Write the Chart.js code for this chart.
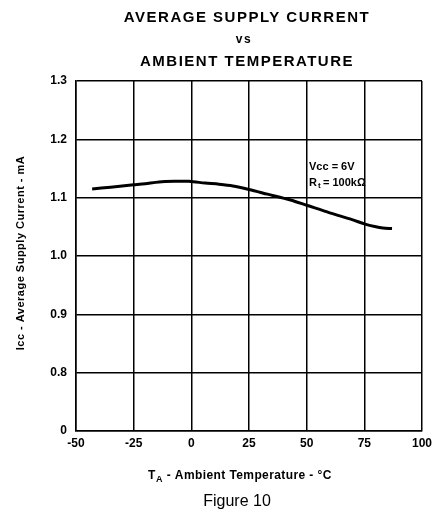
<!DOCTYPE html>
<html>
<head>
<meta charset="utf-8">
<script src="https://cdn.jsdelivr.net/npm/chart.js@4.4.0/dist/chart.umd.min.js"></script>
<style>
  html, body { margin: 0; padding: 0; background: #fff; }
  canvas { display: block; }
</style>
</head>
<body>
<canvas id="chart-area" width="434" height="514"></canvas>
<script>
// temperature (deg C) and supply current (mA)
var temps = [-43, -35, -25, -20, -14, -7, -1, 6, 12, 18, 25, 33, 43, 50, 60, 70, 75, 80, 83, 87];
var current = [1.115, 1.118, 1.122, 1.124, 1.127, 1.128, 1.128, 1.125, 1.123, 1.120, 1.114, 1.106, 1.096, 1.087, 1.074, 1.062, 1.055, 1.050, 1.048, 1.047];
var xTicks = [-50, -25, 0, 25, 50, 75, 100];
var yTicks = [0.7, 0.8, 0.9, 1.0, 1.1, 1.2, 1.3];
var yTickLabels = ['0', '0.8', '0.9', '1.0', '1.1', '1.2', '1.3'];

var fontFamily = '"Liberation Sans", Arial, sans-serif';

var points = [];
for (var i = 0; i < temps.length; i++) {
    points.push({ x: temps[i], y: current[i] });
}

var textPlugin = {
    id: 'textPlugin',
    afterDraw: function (chart) {
        var ctx = chart.ctx;
        ctx.save();
        ctx.fillStyle = '#000';
        ctx.textAlign = 'center';
        ctx.textBaseline = 'middle';

        // title
        ctx.font = 'bold 15px ' + fontFamily;
        ctx.letterSpacing = '1.5px';
        ctx.fillText('AVERAGE SUPPLY CURRENT', 247, 18);
        ctx.font = 'bold 12px ' + fontFamily;
        ctx.fillText('vs', 244, 40);
        ctx.font = 'bold 15px ' + fontFamily;
        ctx.fillText('AMBIENT TEMPERATURE', 247, 62);
        ctx.letterSpacing = '0px';

        // x axis title
        ctx.textAlign = 'left';
        ctx.font = 'bold 12px ' + fontFamily;
        ctx.fillText('T', 148, 476);
        ctx.font = 'bold 9px ' + fontFamily;
        ctx.fillText('A', 156, 480);
        ctx.font = 'bold 12px ' + fontFamily;
        ctx.letterSpacing = '0.4px';
        ctx.fillText(' - Ambient Temperature - \u00B0C', 163, 476);
        ctx.letterSpacing = '0px';

        // figure caption
        ctx.textAlign = 'center';
        ctx.font = '16px ' + fontFamily;
        ctx.fillText('Figure 10', 237, 502);

        // y axis title
        ctx.save();
        ctx.translate(21, 253);
        ctx.rotate(-Math.PI / 2);
        ctx.font = 'bold 11px ' + fontFamily;
        ctx.letterSpacing = '0.5px';
        ctx.fillText('Icc - Average Supply Current - mA', 0, 0);
        ctx.restore();

        // conditions
        ctx.textAlign = 'left';
        ctx.font = 'bold 11px ' + fontFamily;
        ctx.fillText('Vcc = 6V', 309, 167);
        ctx.fillText('R', 309, 183);
        ctx.font = 'bold 8px ' + fontFamily;
        ctx.fillText('t', 318, 186);
        ctx.font = 'bold 11px ' + fontFamily;
        ctx.fillText('= 100k\u03A9', 323, 183);
        ctx.restore();
    }
};

var config = {
    type: 'scatter',
    data: {
        datasets: [{
            data: points,
            showLine: true,
            borderColor: '#000',
            borderWidth: 3,
            pointRadius: 0,
            tension: 0.3
        }]
    },
    options: {
        responsive: false,
        animation: false,
        layout: { padding: { left: 0, top: 81, right: 12, bottom: 0 } },
        plugins: {
            legend: { display: false },
            tooltip: { enabled: false }
        },
        scales: {
            x: {
                type: 'linear',
                min: -50,
                max: 100,
                afterFit: function (scale) {
                    scale.height = 83;
                    scale.paddingRight = 0;
                    scale.paddingLeft = 0;
                },
                afterBuildTicks: function (scale) {
                    scale.ticks = xTicks.map(function (v) { return { value: v }; });
                },
                grid: { color: '#000', lineWidth: 1.5, drawTicks: false },
                border: { color: '#000', width: 1.5 },
                ticks: {
                    padding: 5,
                    color: '#000',
                    font: { family: fontFamily, size: 12, weight: 'bold' },
                    maxRotation: 0,
                    callback: function (v) { return String(v); }
                }
            },
            y: {
                min: 0.7,
                max: 1.3,
                afterFit: function (scale) {
                    scale.width = 76;
                    scale.paddingTop = 0;
                    scale.paddingBottom = 0;
                },
                afterBuildTicks: function (scale) {
                    scale.ticks = yTicks.map(function (v) { return { value: v }; });
                },
                grid: { color: '#000', lineWidth: 1.5, drawTicks: false },
                border: { color: '#000', width: 1.5 },
                ticks: {
                    padding: 9,
                    color: '#000',
                    font: { family: fontFamily, size: 12, weight: 'bold' },
                    callback: function (v) {
                        var idx = yTicks.findIndex(function (t) { return Math.abs(t - v) < 1e-6; });
                        return idx >= 0 ? yTickLabels[idx] : '';
                    }
                }
            }
        }
    },
    plugins: [textPlugin]
};

var ctx = document.getElementById('chart-area').getContext('2d');
window.myChart = new Chart(ctx, config);
</script>
</body>
</html>
